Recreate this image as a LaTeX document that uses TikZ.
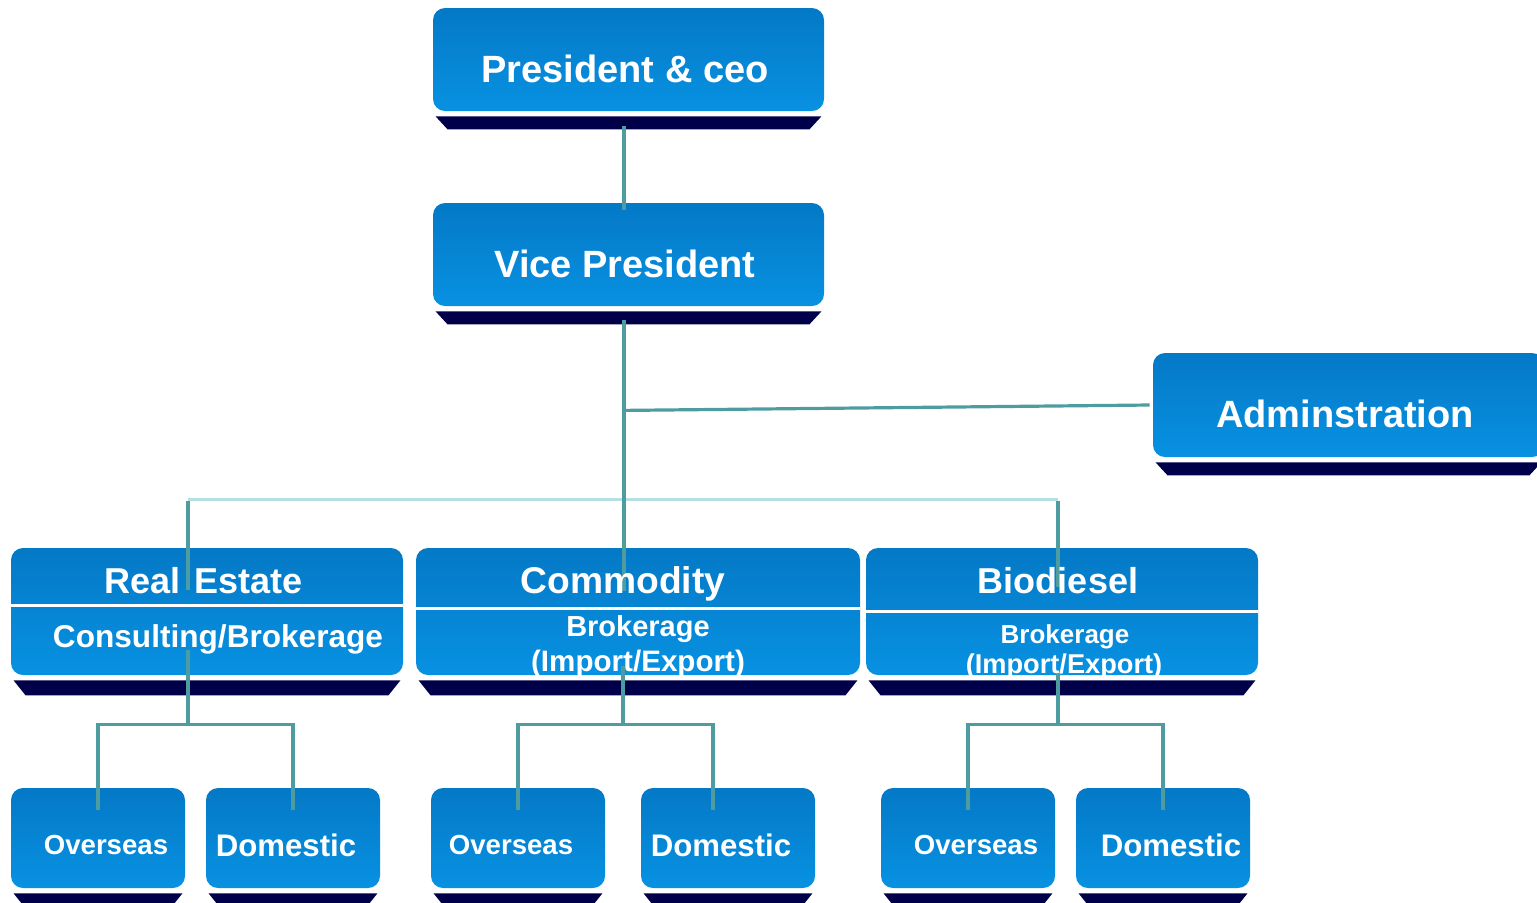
\documentclass[tikz,border=0pt]{standalone}
\usepackage{fontspec}
\setmainfont{Liberation Sans}
\usetikzlibrary{calc}
\definecolor{boxtop}{HTML}{0479C6}
\definecolor{boxbot}{HTML}{0891E2}
\definecolor{navybar}{HTML}{00004A}
\definecolor{tealline}{HTML}{4D9C9F}
\definecolor{busline}{HTML}{B5DEE5}
\tikzset{
  box/.style={rectangle, rounded corners=6pt, top color=boxtop, bottom color=boxbot, draw=none, inner sep=0pt},
  bigbox/.style={box, minimum width=195.5pt, minimum height=51.5pt},
  midbox/.style={box, minimum width=196pt, minimum height=63.5pt},
  smallbox/.style={box, minimum width=87pt, minimum height=50pt},
  lbl/.style={text=white, inner sep=0pt, anchor=base, font=\bfseries},
  conn/.style={draw=tealline, line width=1.6pt},
  busconn/.style={draw=busline, line width=1.6pt},
  divider/.style={draw=white, line width=1.5pt},
  shbar/.style={fill=navybar}
}
\newcommand{\fs}[1]{\fontsize{#1}{#1}\selectfont}
\begin{document}
\begin{tikzpicture}[x=0.5pt,y=-0.5pt]
\useasboundingbox (0,0) rectangle (1537,902);
\clip (0,0) rectangle (1537,902);
% boxes
\node[bigbox] (pres) at (628.5,59.5) {};
\node[bigbox] (vp) at (628.5,254.5) {};
\node[bigbox, minimum height=52pt] (adm) at (1348.5,405) {};
\node[midbox] (re) at (207,611.5) {};
\node[midbox, minimum width=222pt] (com) at (638,611.5) {};
\node[midbox] (bio) at (1062,611.5) {};
\node[smallbox] (reO) at (98,838) {};
\node[smallbox] (reD) at (293,838) {};
\node[smallbox] (comO) at (518,838) {};
\node[smallbox] (comD) at (728,838) {};
\node[smallbox] (bioO) at (968,838) {};
\node[smallbox] (bioD) at (1163,838) {};
% shadow bars
\foreach \n/\h in {pres/13,vp/13,adm/13,re/15,com/15,bio/15,reO/15,reD/15,comO/15,comD/15,bioO/15,bioD/15}{
  \fill[shbar] ($(\n.south west)+(3,5)$) -- ($(\n.south east)+(-3,5)$)
     -- ($(\n.south east)+(-15,5+\h)$) -- ($(\n.south west)+(15,5+\h)$) -- cycle;
}
% dividers
\draw[divider] ($(re.west)+(0,-6)$) -- ($(re.east)+(0,-6)$);
\draw[divider] ($(com.west)+(0,-3)$) -- ($(com.east)+(0,-3)$);
\draw[divider] ($(bio.west)+(0,0)$) -- ($(bio.east)+(0,0)$);
% connectors
\draw[conn] ($(pres.south)+(-4.5,15)$) -- ($(vp.north)+(-4.5,7)$);
\draw[busconn] ($(re.north)+(-19,-48)$) -- ($(bio.north)+(-4,-48)$);
\draw[conn] ($(vp.south)+(-4.5,14)$) -- ($(com.north)+(-14,43)$);
\coordinate (jn) at ($(vp.south)+(-4.5,104)$);
\draw[conn] (jn) -- ($(adm.west)+(-3,0)$);
\draw[conn] ($(re.north)+(-19,-47)$) -- ($(re.north)+(-19,42)$);
\draw[conn] ($(bio.north)+(-4,-47)$) -- ($(bio.north)+(-4,39)$);
% lower connectors
\draw[conn] ($(re.south)+(-19,-25)$) -- ($(re.south)+(-19,50)$);
\draw[conn] ($(reO.north)+(0,22)$) |- ($(reD.north)+(0,-63)$) -- ($(reD.north)+(0,22)$);
\draw[conn] ($(com.south)+(-15,-9)$) -- ($(com.south)+(-15,50)$);
\draw[conn] ($(comO.north)+(0,22)$) |- ($(comD.north)+(-15,-63)$) -- ($(comD.north)+(-15,22)$);
\draw[conn] ($(bio.south)+(-4,-3)$) -- ($(bio.south)+(-4,50)$);
\draw[conn] ($(bioO.north)+(0,22)$) |- ($(bioD.north)+(0,-63)$) -- ($(bioD.north)+(0,22)$);
% labels
\node[lbl, font=\bfseries\fs{19}] (presT) at (625,82) {President \& ceo};
\node[lbl, font=\bfseries\fs{19}] (vpT) at (625,277) {Vice President};
\node[lbl, font=\bfseries\fs{19}] (admT) at (1345,427) {Adminstration};
\node[lbl, font=\bfseries\fs{18}] (reT) at (204,593) {Real\kern2pt\ Estate};
\node[lbl, font=\bfseries\fs{15.8}] (reS) at (218,647) {Consulting/Brokerage};
\node[lbl, font=\bfseries\fs{18.6}] (comT) at (623,593) {Commodity};
\node[lbl, font=\bfseries\fs{14.5}] (comS1) at (638,636) {Brokerage};
\node[lbl, font=\bfseries\fs{14.8}] (comS2) at (638,671) {(Import/Export)};
\node[lbl, font=\bfseries\fs{18}] (bioT) at (1058,593) {Biodiesel};
\node[lbl, font=\bfseries\fs{13}] (bioS1) at (1065,643) {Brokerage};
\node[lbl, font=\bfseries\fs{13.6}] (bioS2) at (1064,673) {(Import/Export)};
\node[lbl, font=\bfseries\fs{13.8}] (reOT) at (106,854) {Overseas};
\node[lbl, font=\bfseries\fs{15.6}] (reDT) at (286,856) {Domestic};
\node[lbl, font=\bfseries\fs{13.8}] (comOT) at (511,854) {Overseas};
\node[lbl, font=\bfseries\fs{15.6}] (comDT) at (721,856) {Domestic};
\node[lbl, font=\bfseries\fs{13.8}] (bioOT) at (976,854) {Overseas};
\node[lbl, font=\bfseries\fs{15.6}] (bioDT) at (1171,856) {Domestic};
\end{tikzpicture}
\end{document}
